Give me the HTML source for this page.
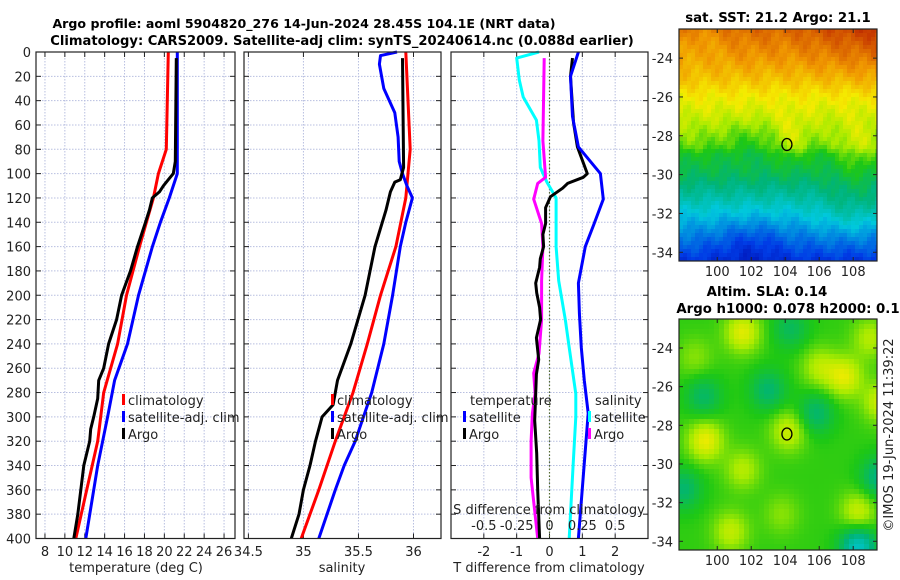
<!DOCTYPE html>
<html><head><meta charset="utf-8"><style>
body{margin:0;background:#fff;}
svg{display:block;font-family:"DejaVu Sans","Liberation Sans",sans-serif;}
.t{font-size:13px;fill:#222;}
.b{font-size:13.3px;font-weight:bold;fill:#000;}
</style></head><body>
<svg id="fig" width="900" height="580" viewBox="0 0 900 580" xmlns="http://www.w3.org/2000/svg">
<g id="maps"></g>
<g id="plots"></g>
<g id="texts"></g>
</svg>
<script>
// ---- data ----
const depthTicks=[0,20,40,60,80,100,120,140,160,180,200,220,240,260,280,300,320,340,360,380,400];
const tTicks=[8,10,12,14,16,18,20,22,24,26];
const sTicks=[34.5,35,35.5,36];
const sTickLabels=["34.5","35","35.5","36"];
const dTicks=[-2,-1,0,1,2];
const sdTicks=[-0.5,-0.25,0,0.25,0.5];
const sdTickLabels=["-0.5","-0.25","0","0.25","0.5"];

const climTDepth=[0,80,100,120,140,160,200,240,280,320,360,400];
const climT=[20.4,20.2,19.4,18.9,18.2,17.5,16.2,15.3,13.9,13.3,12.2,11.1];
const satTDepth=[0,100,120,140,160,200,240,270,300,340,400];
const satT=[21.3,21.3,20.5,19.6,18.8,17.4,16.3,15.0,14.3,13.3,12.1];
const argoTDepth=[5,90,100,105,110,115,120,130,140,160,180,200,220,240,260,270,285,300,310,320,340,360,380,400];
const argoT=[21.2,21.1,20.9,20.4,19.9,19.5,18.8,18.5,18.1,17.3,16.6,15.7,15.2,14.4,13.9,13.4,13.3,12.9,12.6,12.5,11.9,11.6,11.3,10.9];

const climSDepth=[0,80,120,160,200,240,280,320,360,400];
const climS=[35.93,35.97,35.93,35.84,35.70,35.58,35.45,35.29,35.14,34.98];
const satSDepth=[0,3,10,30,50,70,90,100,110,120,140,160,200,240,280,320,340,360,400];
const satS=[35.85,35.70,35.69,35.73,35.83,35.86,35.87,35.90,35.94,35.99,35.93,35.88,35.81,35.73,35.62,35.47,35.37,35.29,35.14];
const argoSDepth=[5,95,105,107,115,130,160,200,240,270,290,300,320,340,360,380,400];
const argoS=[35.90,35.91,35.88,35.83,35.79,35.75,35.65,35.56,35.43,35.31,35.27,35.17,35.11,35.06,35.00,34.96,34.89];

const satDTDepth=[0,20,53,78,100,121,141,160,190,215,243,270,297,338,400];
const satDT=[0.88,0.64,0.70,0.88,1.55,1.64,1.36,1.09,0.88,0.91,0.97,1.06,1.18,1.06,0.88];
const argoDTDepth=[5,20,58,78,100,103,108,112,119,128,141,150,160,170,177,190,198,210,220,235,253,265,281,303,330,360,400];
const argoDT=[0.70,0.64,0.73,0.85,1.15,1.03,0.55,0.40,0.03,-0.12,-0.12,-0.20,-0.18,-0.28,-0.30,-0.42,-0.39,-0.30,-0.27,-0.40,-0.33,-0.40,-0.42,-0.45,-0.39,-0.36,-0.30];
const satDSDepth=[0,5,23,37,56,73,95,107,120,160,188,220,243,281,300,340,400];
const satDS=[-0.08,-0.25,-0.23,-0.20,-0.10,-0.08,-0.07,-0.02,0.05,0.05,0.07,0.12,0.15,0.20,0.20,0.18,0.15];
const argoDSDepth=[5,73,103,108,121,141,160,188,220,248,264,281,297,320,350,400];
const argoDS=[-0.04,-0.05,-0.03,-0.09,-0.12,-0.06,-0.05,-0.06,-0.06,-0.08,-0.12,-0.11,-0.13,-0.14,-0.14,-0.09];

const lonTicks=[100,102,104,106,108];
const latTicks=[-24,-26,-28,-30,-32,-34];
const argoLon=[104.1];
const argoLat=[-28.45];

// ---- helpers ----
const NS="http://www.w3.org/2000/svg";
function mk(parent,tag,attrs,text){const e=document.createElementNS(NS,tag);for(const k in attrs)e.setAttribute(k,attrs[k]);if(text!==undefined)e.textContent=text;parent.appendChild(e);return e;}
const plots=document.getElementById('plots');
const texts=document.getElementById('texts');
const maps=document.getElementById('maps');
const Y0=52,Y1=538.5;
const yD=d=>Y0+d*(Y1-Y0)/400;

const panels=[
 {x0:36,x1:235,lo:7.1,hi:27.1,name:'temperature-panel'},
 {x0:244,x1:441,lo:34.46,hi:36.25,name:'salinity-panel'},
 {x0:451,x1:648,lo:-3,hi:3,name:'difference-panel'}
];
function xf(p,v){return p.x0+(v-p.lo)*(p.x1-p.x0)/(p.hi-p.lo);}

panels.forEach((p,i)=>{
  const g=mk(plots,'g',{});
  
  
  mk(g,'rect',{x:p.x0,y:Y0,width:p.x1-p.x0,height:Y1-Y0,fill:'#fff'});
  const gridX=i===0?tTicks:(i===1?sTicks:dTicks);
  gridX.forEach(v=>{const x=xf(p,v);
    const l=mk(g,'line',{x1:x,x2:x,y1:Y0,y2:Y1,stroke:'#b8bfe0','stroke-width':1,'stroke-dasharray':'1.5,1.5'});
    
    mk(g,'line',{x1:x,x2:x,y1:Y1,y2:Y1-5,stroke:'#222'});mk(g,'line',{x1:x,x2:x,y1:Y0,y2:Y0+5,stroke:'#222'});
  });
  depthTicks.forEach(d=>{const y=yD(d);
    if(d>0&&d<400){const l=mk(g,'line',{x1:p.x0,x2:p.x1,y1:y,y2:y,stroke:'#b8bfe0','stroke-width':1,'stroke-dasharray':'1.5,1.5'});
    }
    mk(g,'line',{x1:p.x0,x2:p.x0+5,y1:y,y2:y,stroke:'#222'});mk(g,'line',{x1:p.x1,x2:p.x1-5,y1:y,y2:y,stroke:'#222'});
  });
  if(i===2){const x=xf(p,0);const z=mk(g,'line',{x1:x,x2:x,y1:Y0,y2:Y1,stroke:'#556b2f','stroke-width':1.2,'stroke-dasharray':'1.5,2'});
    }
  p.g=g;
});

function line(p,depths,vals,color,name,scale){
  const pts=depths.map((d,k)=>xf(p,vals[k]*(scale||1)).toFixed(1)+','+yD(d).toFixed(1)).join(' ');
  const e=mk(p.g,'polyline',{points:pts,fill:'none',stroke:color,'stroke-width':3,'stroke-linejoin':'round'});
  
  
}
line(panels[0],climTDepth,climT,'#ff0000','climatology-temperature-line');
line(panels[0],satTDepth,satT,'#0000ff','satellite-temperature-line');
line(panels[0],argoTDepth,argoT,'#000','argo-temperature-line');
line(panels[1],climSDepth,climS,'#ff0000','climatology-salinity-line');
line(panels[1],satSDepth,satS,'#0000ff','satellite-salinity-line');
line(panels[1],argoSDepth,argoS,'#000','argo-salinity-line');
line(panels[2],satDSDepth,satDS,'#00ffff','satellite-salinity-diff-line',4);
line(panels[2],argoDSDepth,argoDS,'#ff00ff','argo-salinity-diff-line',4);
line(panels[2],argoDTDepth,argoDT,'#000','argo-temperature-diff-line');
line(panels[2],satDTDepth,satDT,'#0000ff','satellite-temperature-diff-line');

panels.forEach(p=>{const f=mk(p.g,'rect',{x:p.x0,y:Y0,width:p.x1-p.x0,height:Y1-Y0,fill:'none',stroke:'#222','stroke-width':1.2});
  });

function txt(x,y,s,cls,anchor,name,extra){const e=mk(texts,'text',Object.assign({x:x,y:y,'class':cls,'text-anchor':anchor||'middle'},extra||{}),s);
  return e;}

depthTicks.forEach(d=>txt(31,yD(d)+5,String(d),'t','end','depth-tick-label'));
tTicks.forEach(v=>txt(xf(panels[0],v),556,String(v),'t','middle','temperature-tick-label'));
sTicks.forEach((v,k)=>txt(xf(panels[1],v),556,sTickLabels[k],'t','middle','salinity-tick-label'));
dTicks.forEach(v=>txt(xf(panels[2],v),556,String(v),'t','middle','t-diff-tick-label'));
sdTicks.forEach((v,k)=>txt(xf(panels[2],v*4),530,sdTickLabels[k],'t','middle','s-diff-tick-label'));
txt(549,514,'S difference from climatology','t','middle','s-diff-axis-title');
txt(136,572,'temperature (deg C)','t','middle','temperature-axis-title');
txt(342,572,'salinity','t','middle','salinity-axis-title');
txt(549,572,'T difference from climatology','t','middle','t-diff-axis-title');
txt(304,28,'Argo profile: aoml 5904820_276 14-Jun-2024 28.45S 104.1E (NRT data)','b','middle','main-title',{style:'font-size:12.6px'});
txt(342,45,'Climatology: CARS2009. Satellite-adj clim: synTS_20240614.nc (0.088d earlier)','b','middle','subtitle',{style:'font-size:13.1px'});

function legend(x,y,color,label,name){
  const m=mk(texts,'rect',{x:x,y:y-11,width:3,height:11,fill:color});
  
  if(label)txt(x+6,y,label,'t','start',name);
}
legend(122,405,'#ff0000','climatology','legend-climatology');
legend(122,422,'#0000ff','satellite-adj. clim','legend-satellite-adj');
legend(122,439,'#000','Argo','legend-argo');
legend(331,405,'#ff0000','climatology','legend-climatology-s');
legend(331,422,'#0000ff','satellite-adj. clim','legend-satellite-adj-s');
legend(331,439,'#000','Argo','legend-argo-s');
txt(470,405,'temperature','t','start','legend-temperature-header');
legend(463,422,'#0000ff','satellite','legend-t-satellite');
legend(463,439,'#000','Argo','legend-t-argo');
txt(595,405,'salinity','t','start','legend-salinity-header');
legend(588,422,'#00ffff','satellite','legend-s-satellite');
legend(588,439,'#ff00ff','Argo','legend-s-argo');

// ---- maps ----
const cmStops=[0,0.12,0.3,0.42,0.52,0.6,0.67,0.78,0.9,1];
const cmCols=[[0,0,160],[0,60,230],[0,200,220],[0,180,120],[30,200,20],[170,235,0],[245,235,0],[240,150,0],[200,60,0],[150,0,0]];
function cmap(n){n=Math.max(0,Math.min(1,n));let k=0;while(k<cmStops.length-2&&n>cmStops[k+1])k++;
  const f=(n-cmStops[k])/(cmStops[k+1]-cmStops[k]);const a=cmCols[k],b=cmCols[k+1];
  return 'rgb('+a.map((v,i)=>Math.round(v+(b[i]-v)*f)).join(',')+')';}
const sstLat=[-34.5,-34,-33,-32,-31,-30,-29,-28.5,-27,-26,-25,-24,-22.5];
const sstVal=[0.1,0.14,0.22,0.3,0.38,0.45,0.5,0.56,0.63,0.67,0.73,0.78,0.84];
function interp(xs,ys,x){if(x<=xs[0])return ys[0];for(let i=1;i<xs.length;i++){if(x<=xs[i])return ys[i-1]+(ys[i]-ys[i-1])*(x-xs[i-1])/(xs[i]-xs[i-1]);}return ys[ys.length-1];}
const MX0=679,MX1=877,LON0=97.75,LON1=109.4,LAT0=-22.5,LAT1=-34.45;
function drawMap(top,bottom,fn,name,cs){
  const g=mk(maps,'g',{});
  const mx=lon=>MX0+(lon-LON0)*(MX1-MX0)/(LON1-LON0);
  const my=lat=>top+(lat-LAT0)*(bottom-top)/(LAT1-LAT0);
  for(let y=top;y<bottom;y+=cs){for(let x=MX0;x<MX1;x+=cs){
    const lon=LON0+(x+cs/2-MX0)/(MX1-MX0)*(LON1-LON0),lat=LAT0+(y+cs/2-top)/(bottom-top)*(LAT1-LAT0);
    mk(g,'rect',{x:x,y:y,width:Math.min(cs,MX1-x)+0.3,height:Math.min(cs,bottom-y)+0.3,fill:cmap(fn(lon,lat))});}}
  const c=mk(g,'ellipse',{cx:mx(argoLon[0]),cy:my(argoLat[0]),rx:5,ry:6,fill:'none',stroke:'#000','stroke-width':1.3});
  
  mk(g,'rect',{x:MX0,y:top,width:MX1-MX0,height:bottom-top,fill:'none',stroke:'#222','stroke-width':1.2});
  lonTicks.forEach(v=>{const x=mx(v);mk(g,'line',{x1:x,x2:x,y1:bottom,y2:bottom-4,stroke:'#222'});mk(g,'line',{x1:x,x2:x,y1:top,y2:top+4,stroke:'#222'});
    txt(x,bottom+15,String(v),'t','middle','longitude-tick-label');});
  latTicks.forEach(v=>{const y=my(v);mk(g,'line',{x1:MX0,x2:MX0+4,y1:y,y2:y,stroke:'#222'});mk(g,'line',{x1:MX1,x2:MX1-4,y1:y,y2:y,stroke:'#222'});
    txt(673,y+5,String(v),'t','end','latitude-tick-label');});
}
function sst(lon,lat){
  let n=interp(sstLat,sstVal,lat);
  n+=0.06*Math.exp(-((lon-104.3)**2)/1.0-((lat+28.2)**2)/1.5);
  n+=0.07*Math.exp(-((lon-108.3)**2)/1.5-((lat+28.8)**2)/2);
  n-=0.04*Math.exp(-((lon-102)**2)/3-((lat+28.3)**2)/1.0);
  n+=0.06*Math.exp(-((lon-108)**2)/4-((lat+31.8)**2)/2);
  n-=0.06*Math.exp(-((lon-102)**2)/4-((lat+33.5)**2)/1.5);
  n+=0.08*Math.max(0,(lon-104)/6)*Math.max(0,(lat+26.5)/4);
  n-=0.04*Math.exp(-((lon-99)**2)/3-((lat+23)**2)/2);
  n+=0.015*Math.sin(lon*3.1+lat*2.3)+0.012*Math.sin(lon*7.3-lat*5.1);
  return n;}
function sla(lon,lat){
  let n=0.53;
  const blobs=[[101.5,-23.2,0.12],[103,-26.2,-0.1],[99.2,-26.5,-0.09],[105.8,-27.4,-0.1],[107.5,-25.5,0.12],[109,-23.5,0.08],[104.2,-28.3,0.1],[99.3,-28.8,0.13],[101.5,-30.3,0.08],[109.5,-30.7,-0.12],[98,-31.3,-0.1],[108.3,-32.5,0.1],[100.8,-33.5,0.09],[103.8,-32.6,0.05],[108.3,-34.3,-0.2],[104.3,-23,-0.08],[109.6,-26.8,0.1],[106,-25,0.08],[98.7,-24.5,0.05]];
  blobs.forEach(b=>{n+=b[2]*Math.exp(-((lon-b[0])**2)/1.1-((lat-b[1])**2)/1.1);});
  return n;}
drawMap(29,261,sst,'sst-map',4);
drawMap(319,550,sla,'sla-map',5);
txt(778,22,'sat. SST: 21.2 Argo: 21.1','b','middle','sst-map-title');
txt(767,296,'Altim. SLA: 0.14','b','middle','sla-map-title');
txt(788,313,'Argo h1000: 0.078 h2000: 0.1','b','middle','sla-map-subtitle');
txt(0,0,'©IMOS 19-Jun-2024 11:39:22','t','middle','timestamp-credit',{transform:'translate(893,435) rotate(-90)'});
</script>
</body></html>
